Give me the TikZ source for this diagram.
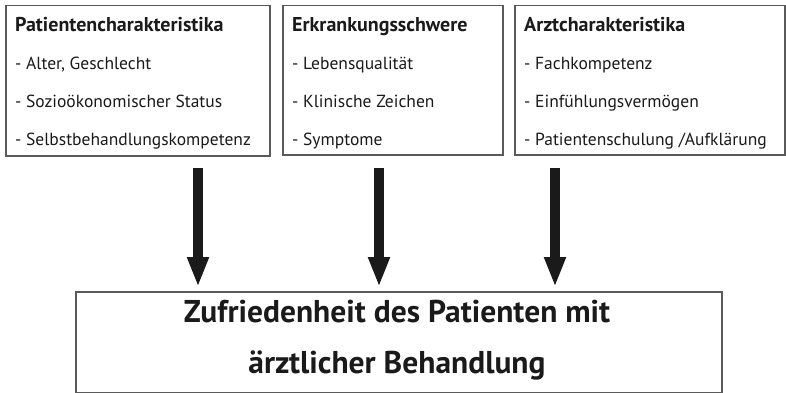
\documentclass[tikz,border=0pt]{standalone}
\usepackage{fontspec}
\setmainfont{PT Sans}
\usetikzlibrary{arrows.meta}
\definecolor{boxgray}{HTML}{5A5A5A}
\definecolor{ink}{HTML}{1A1A1A}

\begin{document}
\begin{tikzpicture}[x=1pt, y=-1pt,
  box/.style={draw=boxgray, line width=1.5pt, anchor=north west, inner sep=0pt},
  head/.style={anchor=base west, inner sep=0pt, text=ink, font=\fontsize{20}{22}\selectfont\bfseries},
  item/.style={anchor=base west, inner sep=0pt, text=ink, font=\fontsize{17.5}{20}\selectfont},
  result/.style={anchor=base, inner sep=0pt, text=ink, font=\fontsize{31.5}{36}\selectfont\bfseries},
  bigarrow/.style={draw=ink, line width=10pt, -{Triangle[length=30pt,width=20pt]}, shorten >=4pt}]
  \useasboundingbox (0,0) rectangle (786,393);

  % the three groups of factors
  \node [box, minimum width=264pt, minimum height=150pt] (pat) at (5,5) {};
  \node [box, minimum width=220pt, minimum height=149pt] (erk) at (282,5) {};
  \node [box, minimum width=270pt, minimum height=149pt] (arzt) at (514,5) {};

  \node [head] (pat-h) at (15,32) {Patientencharakteristika};
  \foreach \txt [count=\i] in {{- Alter, Geschlecht}, - Sozioökonomischer Status, - Selbstbehandlungskompetenz}
    \node [item] (pat-\i) at (15,32+37.7*\i) {\txt};

  \node [head] (erk-h) at (292,32) {Erkrankungsschwere};
  \foreach \txt [count=\i] in {- Lebensqualität, - Klinische Zeichen, - Symptome}
    \node [item] (erk-\i) at (292,32+37.7*\i) {\txt};

  \node [head] (arzt-h) at (524,32) {Arztcharakteristika};
  \foreach \txt [count=\i] in {- Fachkompetenz, - Einfühlungsvermögen, - Patientenschulung /Aufklärung}
    \node [item] (arzt-\i) at (524,32+37.7*\i) {\txt};

  % outcome
  \node [box, minimum width=646pt, minimum height=101pt] (zuf) at (75,291) {};
  \node [result] (zuf-1) at (397,322) {Zufriedenheit des Patienten mit};
  \node [result] (zuf-2) at (397,373) {ärztlicher Behandlung};

  % influences
  \coordinate (a1) at (198,168);
  \coordinate (a2) at (379,168);
  \coordinate (a3) at (555,168);
  \foreach \a in {a1,a2,a3}
    \draw [bigarrow] (\a) -- (\a |- zuf.north);
\end{tikzpicture}
\end{document}
